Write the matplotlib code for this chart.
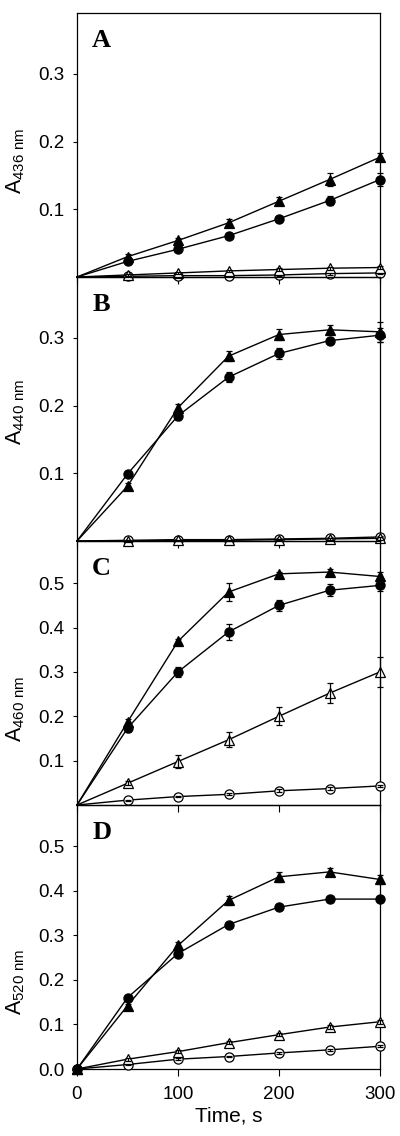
import matplotlib
matplotlib.use("Agg")
import matplotlib.pyplot as plt

plt.rcParams["font.family"] = ["Liberation Sans", "DejaVu Sans"]
plt.rcParams["mathtext.default"] = "regular"

# ── Data ─────────────────────────────────────────────────────────────────────
time = [0, 50, 100, 150, 200, 250, 300]

# panel A, 436 nm
a_tri_f = [0, 0.030, 0.054, 0.080, 0.112, 0.144, 0.177]
a_tri_f_err = [0, 0.004, 0.004, 0.005, 0.006, 0.010, 0.006]
a_cir_f = [0, 0.023, 0.041, 0.061, 0.086, 0.113, 0.144]
a_cir_f_err = [0, 0.003, 0.003, 0.004, 0.004, 0.007, 0.010]
a_tri_o = [0, 0.003, 0.006, 0.009, 0.011, 0.013, 0.014]
a_tri_o_err = [0, 0.002, 0.002, 0.002, 0.002, 0.002, 0.002]
a_cir_o = [0, 0.001, 0.002, 0.002, 0.003, 0.005, 0.006]
a_cir_o_err = [0, 0.001, 0.001, 0.001, 0.002, 0.002, 0.002]

# panel B, 440 nm
b_tri_f = [0, 0.081, 0.197, 0.273, 0.305, 0.312, 0.309]
b_tri_f_err = [0, 0.004, 0.006, 0.007, 0.008, 0.007, 0.015]
b_cir_f = [0, 0.099, 0.185, 0.242, 0.277, 0.296, 0.304]
b_cir_f_err = [0, 0.003, 0.006, 0.007, 0.008, 0.004, 0.010]
b_tri_o = [0, 0.000, 0.001, 0.001, 0.002, 0.003, 0.004]
b_tri_o_err = [0, 0.001, 0.001, 0.001, 0.001, 0.002, 0.002]
b_cir_o = [0, 0.001, 0.002, 0.002, 0.003, 0.004, 0.006]
b_cir_o_err = [0, 0.001, 0.001, 0.001, 0.001, 0.002, 0.002]

# panel C, 460 nm
c_tri_f = [0, 0.187, 0.369, 0.480, 0.521, 0.525, 0.515]
c_tri_f_err = [0, 0.006, 0.005, 0.020, 0.004, 0.008, 0.010]
c_cir_f = [0, 0.173, 0.300, 0.390, 0.450, 0.484, 0.495]
c_cir_f_err = [0, 0.008, 0.011, 0.019, 0.012, 0.013, 0.012]
c_tri_o = [0, 0.049, 0.098, 0.147, 0.200, 0.252, 0.300]
c_tri_o_err = [0, 0.004, 0.015, 0.017, 0.020, 0.022, 0.033]
c_cir_o = [0, 0.011, 0.019, 0.024, 0.032, 0.037, 0.043]
c_cir_o_err = [0, 0.001, 0.002, 0.002, 0.003, 0.003, 0.003]

# panel D, 520 nm
d_tri_f = [0, 0.142, 0.277, 0.378, 0.431, 0.442, 0.425]
d_tri_f_err = [0, 0.004, 0.007, 0.011, 0.011, 0.009, 0.011]
d_cir_f = [0, 0.160, 0.259, 0.324, 0.363, 0.381, 0.381]
d_cir_f_err = [0, 0.003, 0.004, 0.004, 0.004, 0.004, 0.004]
d_tri_o = [0, 0.022, 0.039, 0.059, 0.077, 0.094, 0.106]
d_tri_o_err = [0, 0.003, 0.003, 0.003, 0.003, 0.004, 0.004]
d_cir_o = [0, 0.010, 0.022, 0.028, 0.036, 0.043, 0.051]
d_cir_o_err = [0, 0.002, 0.002, 0.002, 0.002, 0.002, 0.002]

letters = ["A", "B", "C", "D"]
wavelengths = ["436", "440", "460", "520"]
y_tops = [0.39, 0.39, 0.595, 0.592]
y_ticks = [[0.1, 0.2, 0.3], [0.1, 0.2, 0.3],
           [0.1, 0.2, 0.3, 0.4, 0.5], [0.0, 0.1, 0.2, 0.3, 0.4, 0.5]]
label_y = [0.44, 0.49, 0.365, 0.33]

# open series first so the filled ones sit on top
panels = [
    [(a_cir_o, a_cir_o_err), (a_tri_o, a_tri_o_err), (a_cir_f, a_cir_f_err), (a_tri_f, a_tri_f_err)],
    [(b_cir_o, b_cir_o_err), (b_tri_o, b_tri_o_err), (b_cir_f, b_cir_f_err), (b_tri_f, b_tri_f_err)],
    [(c_cir_o, c_cir_o_err), (c_tri_o, c_tri_o_err), (c_cir_f, c_cir_f_err), (c_tri_f, c_tri_f_err)],
    [(d_cir_o, d_cir_o_err), (d_tri_o, d_tri_o_err), (d_cir_f, d_cir_f_err), (d_tri_f, d_tri_f_err)],
]
# marker, face colour
styles = [("o", "white"), ("^", "white"), ("o", "black"), ("^", "black")]

# ── Figure ───────────────────────────────────────────────────────────────────
fig = plt.figure(figsize=(4.0, 11.36), dpi=100)
W, H = 400, 1136
left_px, right_px = 77, 380
tops_px = [13, 277, 541, 805]
h_px = 264

for i in range(4):
    top = tops_px[i]
    ax = fig.add_axes([left_px / W, 1 - (top + h_px) / H,
                       (right_px - left_px) / W, h_px / H])
    ax.patch.set_alpha(0)
    last = i == 3
    for k, ((vals, errs), (mk, fc)) in enumerate(zip(panels[i], styles)):
        z = 2 + k * 3
        ax.plot(time, vals, color="black", lw=1.0, zorder=z, clip_on=False)
        ax.plot(time, vals, ls="none", marker=mk, ms=7.2 if mk == "^" else 6.6,
                mfc=fc, mec="black", mew=0.9, zorder=z + 1,
                markevery=slice(0 if last else 1, None), clip_on=False)
        ax.errorbar(time[1:], vals[1:], yerr=errs[1:], fmt="none",
                    ecolor="black", elinewidth=0.9, capsize=2.5,
                    capthick=0.9, zorder=z + 2, clip_on=False)

    ax.set_xlim(0, 300)
    ax.set_ylim(0, y_tops[i])
    ax.set_xticks([0, 100, 200, 300])
    ax.set_yticks(y_ticks[i])
    ax.set_yticklabels([f"{v:.1f}" for v in y_ticks[i]])
    ax.tick_params(axis="x", direction="out", length=5, width=0.8,
                   labelsize=13.5, pad=7, labelbottom=last)
    ax.tick_params(axis="y", direction="out", length=3, width=0.8,
                   labelsize=13.5, pad=6)
    for sp in ax.spines.values():
        sp.set_linewidth(0.9)

    ax.set_ylabel(r"A$_{" + wavelengths[i] + r"\ nm}$", fontsize=15.5)
    ax.yaxis.set_label_coords(-0.165, label_y[i])

    ax.text(0.05, 0.94, letters[i], transform=ax.transAxes,
            ha="left", va="top", fontsize=19, fontweight="bold",
            family="Liberation Serif")

    if last:
        ax.set_xlabel("Time, s", fontsize=15, labelpad=3)

fig.savefig("out.png", dpi=100, facecolor="white")
